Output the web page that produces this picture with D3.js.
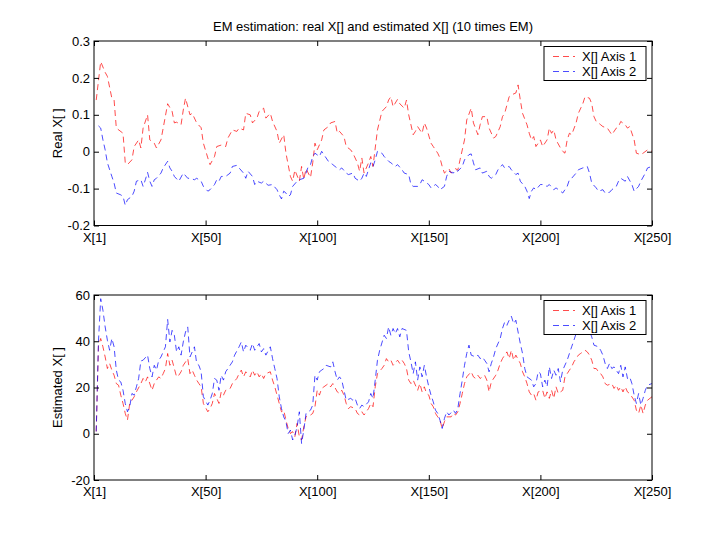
<!DOCTYPE html>
<html>
<head>
<meta charset="utf-8">
<script src="https://cdn.jsdelivr.net/npm/d3@7"></script>
<style>
  body { margin: 0; background: #fff; }
  svg { font-family: "Liberation Sans", Arial, sans-serif; font-size: 13px; }
  .tick line { stroke: #000; }
  .tick text { fill: #000; font-size: 13px; }
</style>
</head>
<body>
<div id="chart"></div>
<script>
  'use strict';

  // x tick positions (index) and their labels
  var xTicks = [0, 50, 100, 150, 200, 250];
  var xTickLabels = ['X[1]', 'X[50]', 'X[100]', 'X[150]', 'X[200]', 'X[250]'];
  var realTicks = [-0.2, -0.1, 0, 0.1, 0.2, 0.3];
  var estTicks = [-20, 0, 20, 40, 60];
  var seriesNames = ['X[] Axis 1', 'X[] Axis 2'];

  // real X[], [index, value]
  var realAxis1 = [[1,0.14],[3,0.244],[5,0.215],[6,0.204],[8,0.145],[9,0.14],[10,0.064],[13,0.05],[14,-0.03],[15,-0.035],
    [17,-0.022],[18,0.014],[20,0.032],[21,0.01],[22,0.064],[24,0.1],[25,0.032],[27,0.023],[28,0.01],[30,0.032],[31,0.064],
    [33,0.13],[35,0.109],[36,0.078],[37,0.08],[39,0.073],[40,0.113],[41,0.145],[43,0.1],[44,0.104],[46,0.078],[48,0.065],
    [49,0.023],[51,-0.017],[52,-0.035],[54,-0.013],[55,0.014],[57,0.018],[59,0.014],[60,0.037],[62,0.059],[64,0.055],
    [65,0.064],[67,0.059],[68,0.104],[70,0.1],[71,0.078],[73,0.091],[74,0.109],[76,0.118],[77,0.091],[79,0.104],[80,0.082],
    [82,0.055],[83,0.023],[85,0.046],[86,-0.004],[88,-0.067],[89,-0.08],[90,-0.05],[92,-0.08],[93,-0.04],[94,-0.075],
    [95,-0.046],[97,-0.07],[98,-0.03],[99,0.023],[100,0.005],[102,0.032],[103,0.059],[105,0.068],[106,0.078],[108,0.082],
    [109,0.05],[110,0.055],[112,0.041],[113,0.014],[115,0.005],[116,-0.004],[118,-0.03],[119,-0.053],[120,-0.017],
    [121,-0.058],[123,-0.03],[124,-0.013],[125,-0.04],[126,0.01],[127,0.059],[129,0.109],[131,0.122],[132,0.14],[133,0.149],
    [134,0.122],[136,0.142],[137,0.13],[139,0.118],[140,0.14],[141,0.1],[143,0.046],[144,0.055],[145,0.068],[147,0.05],
    [148,0.078],[149,0.064],[151,0.023],[152,0.014],[154,-0.004],[155,-0.017],[156,-0.04],[157,-0.058],[159,-0.046],
    [160,-0.058],[162,-0.046],[163,-0.05],[164,-0.022],[166,0.032],[167,0.086],[169,0.118],[170,0.078],[172,0.046],
    [173,0.073],[174,0.095],[176,0.095],[177,0.064],[179,0.037],[180,0.041],[182,0.068],[183,0.095],[184,0.104],[186,0.149],
    [187,0.154],[189,0.159],[190,0.181],[191,0.14],[192,0.104],[194,0.073],[195,0.05],[196,0.032],[197,0.041],[198,0.014],
    [200,0.032],[201,0.014],[203,0.032],[204,0.064],[205,0.05],[206,0.059],[207,0.032],[209,0.01],[210,0.001],[211,-0.004],
    [212,0.032],[213,0.05],[214,0.046],[216,0.078],[217,0.104],[219,0.13],[220,0.149],[222,0.145],[223,0.13],[224,0.095],
    [225,0.082],[226,0.078],[227,0.073],[228,0.068],[230,0.064],[231,0.055],[232,0.046],[234,0.064],[235,0.068],[236,0.082],
    [238,0.073],[239,0.064],[240,0.068],[242,0.032],[243,-0.004],[245,-0.008],[246,-0.004],[248,0.005],[250,0.001]];

  var realAxis2 = [[2,0.07],[3,0.064],[4,0.032],[5,0.005],[6,-0.03],[8,-0.067],[9,-0.085],[10,-0.112],[12,-0.117],[13,-0.121],
    [14,-0.145],[15,-0.13],[17,-0.121],[18,-0.107],[19,-0.08],[21,-0.076],[22,-0.094],[23,-0.076],[24,-0.056],[25,-0.08],
    [26,-0.094],[27,-0.076],[28,-0.072],[30,-0.058],[31,-0.044],[33,-0.026],[34,-0.044],[35,-0.053],[36,-0.067],[38,-0.08],
    [40,-0.058],[42,-0.072],[43,-0.072],[45,-0.076],[46,-0.072],[48,-0.08],[49,-0.094],[51,-0.107],[52,-0.103],[54,-0.089],
    [55,-0.076],[56,-0.08],[57,-0.067],[59,-0.067],[61,-0.058],[62,-0.04],[64,-0.037],[65,-0.044],[67,-0.058],[68,-0.072],
    [69,-0.053],[71,-0.067],[72,-0.089],[73,-0.08],[75,-0.085],[76,-0.08],[78,-0.091],[80,-0.089],[82,-0.103],[83,-0.117],
    [84,-0.128],[85,-0.107],[86,-0.112],[87,-0.121],[88,-0.117],[89,-0.094],[91,-0.08],[92,-0.076],[94,-0.072],[95,-0.058],
    [96,-0.04],[97,-0.035],[98,-0.013],[99,-0.004],[101,-0.013],[102,0.001],[104,-0.017],[105,-0.026],[107,-0.035],
    [108,-0.04],[110,-0.049],[111,-0.044],[113,-0.058],[114,-0.062],[116,-0.058],[117,-0.072],[119,-0.08],[120,-0.072],
    [121,-0.058],[122,-0.067],[124,-0.03],[125,-0.04],[126,-0.022],[127,0.001],[129,-0.004],[130,-0.013],[132,-0.026],
    [133,-0.03],[135,-0.04],[136,-0.035],[138,-0.049],[139,-0.058],[141,-0.062],[142,-0.089],[143,-0.094],[145,-0.094],
    [146,-0.089],[147,-0.076],[148,-0.08],[150,-0.089],[151,-0.098],[153,-0.089],[154,-0.094],[155,-0.103],[157,-0.094],
    [158,-0.067],[159,-0.053],[161,-0.058],[162,-0.049],[163,-0.053],[165,-0.04],[166,-0.022],[168,-0.008],[169,-0.006],
    [170,-0.03],[171,-0.049],[173,-0.044],[174,-0.058],[176,-0.053],[177,-0.067],[178,-0.072],[180,-0.062],[181,-0.049],
    [183,-0.035],[184,-0.044],[186,-0.04],[187,-0.049],[189,-0.062],[190,-0.058],[191,-0.08],[193,-0.094],[194,-0.107],
    [195,-0.127],[196,-0.107],[197,-0.098],[198,-0.103],[200,-0.089],[201,-0.089],[203,-0.094],[204,-0.089],[206,-0.103],
    [207,-0.098],[209,-0.107],[210,-0.112],[212,-0.094],[213,-0.076],[214,-0.072],[216,-0.058],[217,-0.049],[219,-0.044],
    [221,-0.04],[222,-0.058],[223,-0.085],[225,-0.098],[226,-0.107],[228,-0.103],[229,-0.112],[231,-0.11],[232,-0.103],
    [234,-0.094],[235,-0.08],[236,-0.072],[238,-0.08],[239,-0.067],[241,-0.089],[242,-0.107],[244,-0.094],[245,-0.08],
    [247,-0.058],[248,-0.044],[250,-0.04]];

  // estimated X[], [index, value]
  var estAxis1 = [[1,1],[2,38],[3,41.2],[4,37.6],[5,33.2],[6,28.2],[7,30.4],[8,27.5],[9,25.3],[10,21.7],[11,21],[12,16.7],
    [13,13.1],[14,8.8],[15,5.9],[16,13.1],[17,14.5],[18,16],[19,18.1],[21,21.7],[22,23.9],[23,22.4],[24,24.6],[26,18.8],
    [27,21.7],[28,23.2],[29,24.6],[30,23.9],[31,26],[32,28.2],[33,34.7],[34,29.6],[35,31.8],[36,28.2],[37,24.6],[38,25.3],
    [39,26.8],[40,29.6],[42,32.5],[43,26],[44,27.5],[45,25.3],[46,23.2],[47,21.7],[48,20.3],[49,13.1],[51,9.5],[52,10.9],
    [53,13.1],[54,17.4],[55,15.3],[56,13.1],[57,18.1],[58,16.7],[59,18.8],[61,19.6],[62,21.7],[64,23.9],[65,26],[66,27.5],
    [67,24.6],[68,26.8],[70,24.6],[71,27.5],[72,25.3],[73,26.8],[74,24.6],[75,26],[76,23.9],[77,26],[79,26.8],[80,23.2],
    [81,20.3],[82,16.7],[83,13.1],[84,9.5],[85,10.2],[86,5.9],[87,2.3],[88,0.1],[89,0.9],[90,-1.3],[91,4.5],[92,-1.3],
    [93,-2.7],[94,3],[95,7.3],[96,8.1],[97,8.1],[98,8.8],[99,11.7],[100,18.8],[101,16.7],[102,19.6],[103,20.3],[104,21],
    [105,21.7],[106,20.3],[107,21.7],[109,18.1],[110,17.4],[111,18.8],[112,16.7],[113,13.1],[114,10.9],[115,11.7],
    [117,10.9],[118,8.8],[119,8.1],[120,9.5],[121,8.1],[122,9.5],[123,10.9],[124,13.1],[125,11.7],[126,20.3],[127,26],
    [129,28.2],[130,29.6],[131,32.5],[132,31.1],[133,31.8],[134,29.6],[136,31.8],[137,30.4],[138,31.8],[139,30.4],
    [140,28.2],[141,23.2],[142,21.7],[143,23.2],[145,18.8],[146,21.7],[147,18.1],[148,20.3],[149,17.4],[150,16.7],
    [151,13.1],[152,11.7],[153,8.8],[154,7.3],[155,5.9],[156,2.3],[157,5.2],[158,7.3],[160,7.3],[161,8.8],[162,8.1],
    [163,9.5],[164,13.1],[165,17.4],[166,21.7],[167,24.6],[169,26.8],[170,24.6],[171,23.9],[172,25.3],[173,23.9],
    [174,24.6],[175,25.3],[176,23.2],[177,18.1],[178,22.4],[180,25.3],[181,27.5],[182,30.4],[183,32.5],[184,34],
    [185,35.4],[186,32.5],[187,36.1],[188,31.8],[189,34],[191,30.4],[192,26.8],[193,24.6],[194,21.7],[195,18.1],
    [196,16.7],[197,17.4],[198,14.5],[199,18.1],[201,18.8],[202,15.3],[203,18.1],[204,15.3],[205,18.8],[206,15.3],
    [207,20.3],[208,17.4],[210,18.8],[211,24.6],[212,26],[213,27.5],[214,28.9],[215,31.1],[216,32.5],[217,34],[218,34.7],
    [220,36.1],[221,35.4],[222,34],[223,31.8],[224,28.2],[225,28.2],[226,26.8],[227,26],[228,24.6],[229,21.7],[230,21],
    [232,21.7],[233,19.6],[234,21],[235,18.8],[236,20.3],[237,18.1],[238,20.3],[239,18.1],[240,17.4],[242,14.5],
    [243,10.2],[244,8.8],[245,12.4],[246,8.8],[247,12.4],[248,14.5],[250,16]];

  var estAxis2 = [[1,1],[2,40],[3,58.4],[4,53.4],[5,46.2],[6,40.4],[7,36.1],[8,41.2],[9,37.6],[10,27.5],[11,23.2],[12,22.4],
    [13,18.8],[14,13.1],[15,9.5],[16,11.7],[17,17.4],[18,16.7],[19,20.3],[20,23.9],[21,31.5],[22,31.8],[24,34],[25,28.2],
    [26,24.6],[27,29.6],[28,27.5],[29,31.8],[30,33.2],[32,37.6],[33,49.4],[34,39.7],[35,44.7],[36,42.6],[37,35.4],
    [38,37.6],[39,34],[40,39.7],[41,44],[42,46.2],[43,33.2],[44,35.4],[45,37.6],[46,30.4],[47,29.6],[48,26.8],[49,16],
    [51,12.4],[52,14.5],[53,17.4],[54,23.9],[55,23.2],[56,18.8],[57,25.3],[58,23.2],[59,26.8],[60,28.2],[62,31.1],
    [63,34],[65,37.6],[66,39.7],[67,35.4],[68,38.3],[70,36.1],[71,39],[72,36.1],[73,37.6],[74,39],[75,35.4],[76,36.8],
    [77,34],[79,37.6],[80,32.5],[81,28.2],[82,23.9],[83,16],[84,10.9],[85,7.3],[86,5.2],[87,0.1],[88,1.6],[89,-2.7],
    [90,-0.6],[91,3],[92,9.5],[93,-4.2],[94,1.6],[95,8.8],[96,9.5],[97,10.2],[98,12.4],[99,25.3],[100,23.2],[101,26.8],
    [102,27.5],[103,28.2],[104,29.6],[106,28.9],[107,31.1],[108,26.8],[109,23.2],[110,24.6],[111,23.2],[112,18.8],
    [113,14.5],[115,15.3],[116,14.5],[117,15.3],[118,12.4],[119,10.9],[120,12.4],[121,11.7],[123,13.8],[124,17.4],
    [125,15.3],[126,23.2],[127,31.8],[128,36.1],[130,42.6],[131,41.2],[132,46.2],[133,42.6],[134,45.5],[135,43.3],
    [136,45.5],[137,41.9],[138,45.5],[140,44.7],[141,35.4],[142,31.1],[143,26],[144,31.1],[145,23.2],[146,28.9],
    [147,24.6],[148,29.6],[149,24.6],[150,20.3],[151,16.7],[152,13.8],[153,10.2],[154,8.8],[155,5.9],[156,2.3],
    [157,6.6],[158,9.5],[159,8.1],[161,10.2],[162,8.8],[163,10.9],[164,17.4],[165,23.2],[166,29.6],[167,34.7],
    [168,38.3],[169,34],[171,33.2],[172,34],[173,32.5],[174,33.2],[175,31.8],[176,30.4],[177,26.8],[178,30.4],
    [179,33.2],[180,36.8],[182,41.2],[183,45.5],[184,48.3],[185,46.9],[186,49.1],[187,50.8],[188,47.6],[189,49.1],
    [190,44],[191,39],[192,34.7],[193,28.2],[194,24.6],[196,23.2],[197,20.3],[198,21.7],[199,26.8],[200,26],[201,20.3],
    [202,23.2],[203,20.3],[204,28.9],[205,23.9],[206,27.5],[207,25.3],[208,28.2],[209,22.4],[210,27.5],[212,31.8],
    [213,34.7],[214,37.6],[215,40.4],[216,43.3],[217,44.7],[219,46.5],[221,47],[223,41.9],[224,38.3],[226,37.6],
    [227,36.1],[228,34],[229,30.4],[230,28.2],[231,30.4],[232,28.2],[233,28.9],[235,26],[236,29.6],[237,24.6],
    [238,28.9],[239,23.9],[240,24.6],[241,21.7],[242,16.7],[243,13.1],[244,17.4],[245,12.4],[246,15.3],[247,18.8],
    [248,21],[250,21.7]];

  var width = 720, height = 540;
  var colors = ['#ff0000', '#0000ff'];
  var left = 94, right = 652;

  var svg = d3.select('#chart').append('svg').attr('width', width).attr('height', height);
  svg.append('rect').attr('width', width).attr('height', height).attr('fill', '#fff');

  var x = d3.scaleLinear().domain([0, 250]).range([left, right]);

  var drawPanel = function(cfg) {
    var y = d3.scaleLinear().domain(cfg.domain).range([cfg.bottom, cfg.top]);
    var g = svg.append('g');

    var line = d3.line().x(function(d) { return x(d[0]); }).y(function(d) { return y(d[1]); });
    cfg.series.forEach(function(s, i) {
      g.append('path').datum(s).attr('d', line)
        .attr('fill', 'none').attr('stroke', colors[i]).attr('stroke-width', 1)
        .attr('stroke-opacity', 0.7).attr('stroke-dasharray', '6,4');
    });

    // ticks point inward, like the original
    g.append('g').attr('transform', 'translate(0,' + cfg.bottom + ')')
      .call(d3.axisBottom(x).tickValues(xTicks).tickSize(-5).tickPadding(7)
        .tickFormat(function(d, i) { return xTickLabels[i]; }));
    g.append('g').attr('transform', 'translate(0,' + cfg.top + ')')
      .call(d3.axisTop(x).tickValues(xTicks).tickSize(-5).tickFormat(''));
    g.append('g').attr('transform', 'translate(' + left + ',0)')
      .call(d3.axisLeft(y).tickValues(cfg.ticks).tickSize(-5).tickPadding(4)
        .tickFormat(function(d) { return String(d); }));
    g.append('g').attr('transform', 'translate(' + right + ',0)')
      .call(d3.axisRight(y).tickValues(cfg.ticks).tickSize(-5).tickFormat(''));
    g.selectAll('.domain').remove();

    g.append('rect').attr('x', left).attr('y', cfg.top)
      .attr('width', right - left).attr('height', cfg.bottom - cfg.top)
      .attr('fill', 'none').attr('stroke', '#000');

    g.append('text').attr('transform', 'translate(62,' + ((cfg.top + cfg.bottom) / 2) + ') rotate(-90)')
      .attr('text-anchor', 'middle').text(cfg.ylabel);

    // legend
    var lg = g.append('g').attr('transform', 'translate(544,' + (cfg.top + 5.5) + ')');
    lg.append('rect').attr('width', 102).attr('height', 34).attr('fill', '#fff').attr('stroke', '#000');
    seriesNames.forEach(function(name, i) {
      var yy = 10 + i * 15;
      lg.append('line').attr('x1', 9).attr('x2', 31).attr('y1', yy).attr('y2', yy)
        .attr('stroke', colors[i]).attr('stroke-opacity', 0.7).attr('stroke-dasharray', '6,4');
      lg.append('text').attr('x', 38).attr('y', yy + 4.5).text(name);
    });
  };

  drawPanel({ domain: [-0.2, 0.3], top: 41, bottom: 225.5, ticks: realTicks,
    series: [realAxis1, realAxis2], ylabel: 'Real X[ ]' });
  drawPanel({ domain: [-20, 60], top: 295, bottom: 480, ticks: estTicks,
    series: [estAxis1, estAxis2], ylabel: 'Estimated X[ ]' });

  svg.append('text').attr('x', (left + right) / 2).attr('y', 31).attr('text-anchor', 'middle')
    .text('EM estimation: real X[] and estimated X[] (10 times EM)');
</script>
</body>
</html>
